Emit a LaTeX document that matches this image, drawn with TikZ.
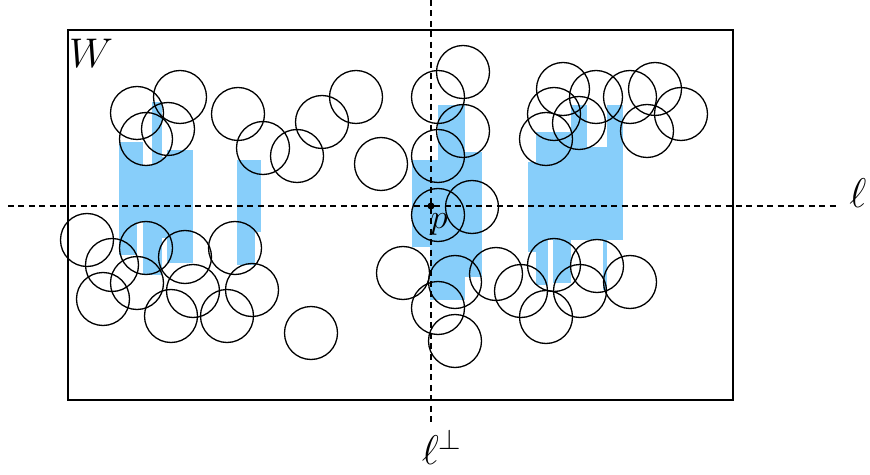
\documentclass[tikz,border=0pt]{standalone}
\usepackage{amsmath,amssymb}
\usepackage{xcolor}
\usepackage{tikz}
\usetikzlibrary{positioning}
\definecolor{stripBlue}{HTML}{87CEFA}

\begin{document}
\begin{tikzpicture}[x=0.5pt, y=-0.5pt, line width=0.6pt,
  disc/.style={black, line width=0.65pt},
  guide/.style={dash pattern=on 3pt off 2.2pt, line width=0.55pt},
  dot/.style={circle, fill=black, inner sep=0pt, minimum size=3.5pt}]
\useasboundingbox (0,0) rectangle (870,475);
% vertical strips
\foreach \xa/\xb/\ya/\yb in {119/137/142/255, 137/143/142/222, 143/152/165/275,
    152/162/102/275, 162/167/157/238, 167/193/150/263,
    237/255/160/265, 255/261/160/232,
    412/430/160/247, 430/438/160/300, 438/465/105/300, 465/482/152/277,
    528/536/162/252, 536/548/132/285, 548/553/132/240, 553/571/132/283,
    571/587/105/240, 587/603/147/240, 603/607/147/290, 607/623/105/240}
  \fill[stripBlue] (\xa,\ya) rectangle (\xb,\yb);
% the two lines
\coordinate (hl) at (8,206);
\coordinate (hr) at (836,206);
\coordinate (vt) at (431,0);
\coordinate (vb) at (431,422);
\draw[guide] (hl) -- (hr);
\draw[guide] (vt) -- (vb);
% window
\draw[line width=0.9pt] (68,30) rectangle (733,400);
% disks
\foreach \cx/\cy in {137/113, 180/97, 146/139, 168/129,
    238/114, 263/148, 297/156, 322/122, 356/97, 381/164,
    87/240, 112/265, 146/248, 185/257, 235/248, 137/283, 103/299,
    193/291, 252/290, 171/316, 227/316, 311/333,
    463/72, 438/97, 463/131, 438/156, 438/215, 472/207, 403/273,
    455/282, 438/308, 455/341, 496/274,
    521/291, 546/317, 554/265, 580/291, 597/266, 630/282,
    563/89, 596/97, 630/97, 655/89, 554/114, 579/123, 546/139,
    647/131, 681/114}
  \draw[disc] (\cx,\cy) circle (13.25pt);
% point and labels
\node[dot] (p) at (431,206) {};
\node[font=\fontsize{17}{20}\selectfont] (plabel) at (439,224) {$p$};
\node[font=\fontsize{22}{26}\selectfont] (wlabel) at (91,53) {$W$};
\node[font=\fontsize{20}{24}\selectfont] (ell) at (858,193) {$\ell$};
\node[font=\fontsize{22}{26}\selectfont] (ellperp) at (442,447) {$\ell^{\perp}$};
\end{tikzpicture}
\end{document}
